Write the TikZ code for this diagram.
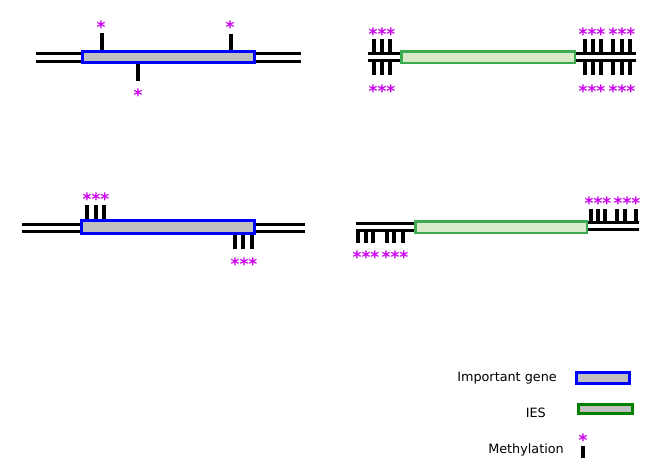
\documentclass[tikz,border=0pt]{standalone}
\usepackage{fontspec}
\setmainfont{DejaVu Sans}
\definecolor{geneblue}{RGB}{0,0,255}
\definecolor{genefill}{RGB}{192,192,192}
\definecolor{iesgreen}{RGB}{60,170,80}
\definecolor{iesfill}{RGB}{217,234,200}
\definecolor{leggreen}{RGB}{0,128,0}
\definecolor{methcol}{RGB}{204,0,238}
\tikzset{
  gene/.style={rectangle, draw=geneblue, line width=3pt, fill=genefill, inner sep=0pt},
  ies/.style={rectangle, draw=iesgreen, line width=2.5pt, fill=iesfill, inner sep=0pt},
  dna/.style={line width=3pt, black},
  tick/.style={line width=3.8pt, black},
  meth/.style={text=methcol, font=\fontsize{17}{17}\selectfont\bfseries, inner sep=0pt, anchor=base, yshift=-10pt},
  legtext/.style={font=\fontsize{12.8}{14}\selectfont, anchor=east, inner sep=0pt}
}
\begin{document}
\begin{tikzpicture}[x=1pt,y=-1pt]
\useasboundingbox (0,0) rectangle (649,471);

% ---------- Panel A (top left) ----------
\node[gene, minimum width=172pt, minimum height=11pt] (ga) at (168.5,57) {};
\coordinate (aL1) at (36,53.5);  \coordinate (aL2) at (36,61);
\coordinate (aR1) at (301,53.5); \coordinate (aR2) at (301,61);
\draw[dna] (aL1) -- (aL1 -| ga.west);
\draw[dna] (aL2) -- (aL2 -| ga.west);
\draw[dna] (ga.east |- aR1) -- (aR1);
\draw[dna] (ga.east |- aR2) -- (aR2);
\draw[tick] (101.7,33) -- (101.7,50);
\draw[tick] (231,34) -- (231,50);
\draw[tick] (138,64) -- (138,81);
\node[meth] (sa1) at (101,23) {*};
\node[meth] (sa2) at (230,24) {*};
\node[meth] (sa3) at (138,91) {*};

% ---------- Panel B (top right) ----------
\node[ies, minimum width=173.5pt, minimum height=11.5pt] (gb) at (488,57) {};
\coordinate (bL1) at (368,53.5);  \coordinate (bL2) at (368,60);
\coordinate (bR1) at (636,53.5);  \coordinate (bR2) at (636,60);
\draw[dna] (bL1) -- (bL1 -| gb.west);
\draw[dna] (bL2) -- (bL2 -| gb.west);
\draw[dna] (gb.east |- bR1) -- (bR1);
\draw[dna] (gb.east |- bR2) -- (bR2);
\foreach \x in {374,382,390,585,593,601,613,622,630}{
  \draw[tick] (\x,39) -- (\x,53.5);
  \draw[tick] (\x,60) -- (\x,75);
}
\node[meth] (sb1) at (382,30) {***};
\node[meth] (sb2) at (382,87) {***};
\node[meth] (sb3) at (592,30) {***};
\node[meth] (sb4) at (622,30) {***};
\node[meth] (sb5) at (592,87) {***};
\node[meth] (sb6) at (622,87) {***};

% ---------- Panel C (middle left) ----------
\node[gene, minimum width=173pt, minimum height=13pt] (gc) at (168,227) {};
\coordinate (cL1) at (22,224);  \coordinate (cL2) at (22,231);
\coordinate (cR1) at (305,224); \coordinate (cR2) at (305,231);
\draw[dna] (cL1) -- (cL1 -| gc.west);
\draw[dna] (cL2) -- (cL2 -| gc.west);
\draw[dna] (gc.east |- cR1) -- (cR1);
\draw[dna] (gc.east |- cR2) -- (cR2);
\foreach \x in {87,96,104}{ \draw[tick] (\x,205) -- (\x,219); }
\foreach \x in {235,243,252}{ \draw[tick] (\x,235) -- (\x,249); }
\node[meth] (sc1) at (96,195) {***};
\node[meth] (sc2) at (244,260) {***};

% ---------- Panel D (middle right) ----------
\node[ies, minimum width=171.5pt, minimum height=11.5pt] (gd) at (501,227) {};
\coordinate (dL1) at (356,223.3);  \coordinate (dL2) at (356,230.5);
\coordinate (dR1) at (639,222.5);  \coordinate (dR2) at (639,229);
\draw[dna] (dL1) -- (dL1 -| gd.west);
\draw[dna] (dL2) -- (dL2 -| gd.west);
\draw[dna] (gd.east |- dR1) -- (dR1);
\draw[dna] (gd.east |- dR2) -- (dR2);
\foreach \x in {358,366,373,387,394,403}{ \draw[tick] (\x,230.5) -- (\x,243); }
\foreach \x in {591,598,605,617,625,636}{ \draw[tick] (\x,208.5) -- (\x,222.5); }
\node[meth] (sd1) at (366,253) {***};
\node[meth] (sd2) at (395,253) {***};
\node[meth] (sd3) at (598,199) {***};
\node[meth] (sd4) at (627,199) {***};

% ---------- Legend ----------
\node[legtext] (t1) at (557,378) {Important gene};
\node[gene, minimum width=53pt, minimum height=11pt] (l1) at (603,378) {};
\node[legtext] (t2) at (546,413) {IES};
\node[rectangle, draw=leggreen, line width=3pt, fill=genefill, inner sep=0pt,
      minimum width=54pt, minimum height=9pt] (l2) at (605.5,409) {};
\node[legtext] (t3) at (564,450) {Methylation};
\node[meth] (l3) at (583,436) {*};
\draw[tick, line width=4pt] (583,446) -- (583,458);
\end{tikzpicture}
\end{document}
